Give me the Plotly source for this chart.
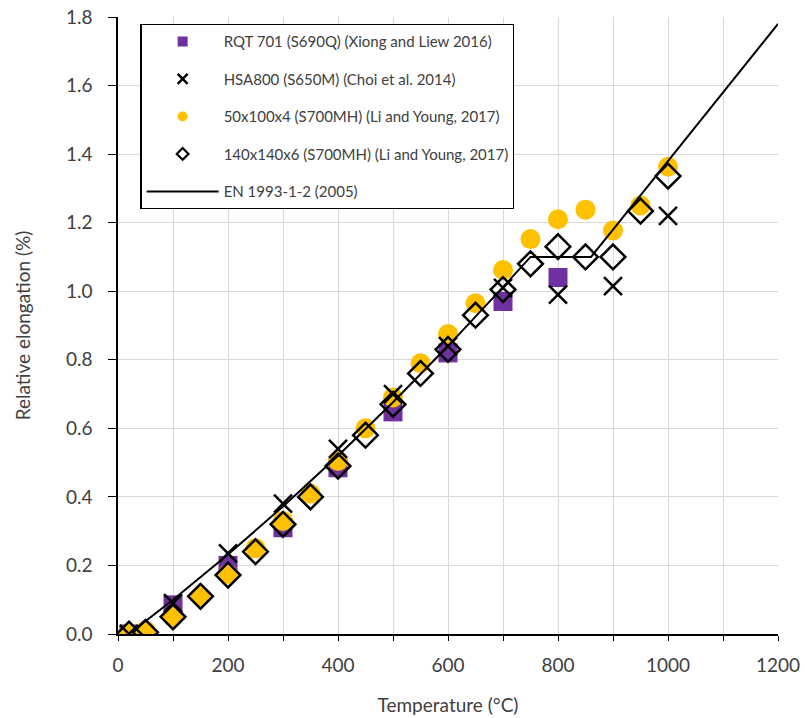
import plotly.graph_objects as go

# RQT 701 (S690Q)
rqt_T = [20, 100, 200, 300, 400, 500, 600, 700, 800]
rqt_v = [0.0, 0.085, 0.20, 0.31, 0.485, 0.648, 0.82, 0.97, 1.04]

# HSA800 (S650M)
hsa_T = [20, 100, 200, 300, 400, 500, 600, 700, 800, 900, 1000]
hsa_v = [0.0, 0.09, 0.235, 0.38, 0.54, 0.70, 0.84, 1.01, 0.99, 1.015, 1.22]

# 50x100x4 (S700MH)
c_T = [20, 50, 100, 150, 200, 250, 300, 350, 400, 450, 500, 550, 600, 650, 700, 750, 800, 850, 900, 950, 1000]
c_v = [0.0, 0.01, 0.05, 0.11, 0.175, 0.25, 0.33, 0.41, 0.505, 0.60, 0.69, 0.79, 0.875, 0.965, 1.062, 1.152, 1.21, 1.238, 1.177, 1.25, 1.363]

# 140x140x6 (S700MH)
d_T = [20, 50, 100, 150, 200, 250, 300, 350, 400, 450, 500, 550, 600, 650, 700, 750, 800, 850, 900, 950, 1000]
d_v = [0.0, 0.005, 0.05, 0.11, 0.172, 0.24, 0.32, 0.40, 0.49, 0.58, 0.67, 0.76, 0.83, 0.93, 1.005, 1.08, 1.13, 1.10, 1.10, 1.234, 1.336]

# EN 1993-1-2 (2005)
en_T = [20, 50, 100, 200, 300, 400, 500, 600, 650, 700, 750, 860, 900, 1000, 1100, 1200]
en_v = [0.0, 0.037, 0.0998, 0.232, 0.372, 0.520, 0.676, 0.840, 0.925, 1.012, 1.10, 1.10, 1.18, 1.38, 1.58, 1.78]

x_ticks = [0, 200, 400, 600, 800, 1000, 1200]
y_ticks = [0.0, 0.2, 0.4, 0.6, 0.8, 1.0, 1.2, 1.4, 1.6, 1.8]

names = ["RQT 701 (S690Q) (Xiong and Liew 2016)",
         "HSA800 (S650M) (Choi et al. 2014)",
         "50x100x4 (S700MH) (Li and Young, 2017)",
         "140x140x6 (S700MH) (Li and Young, 2017)",
         "EN 1993-1-2 (2005)"]

PURPLE = "#7030A0"
ORANGE = "#FFC000"
FONT = "Lato, Carlito, sans-serif"
TXT = "#404040"

sq = dict(symbol="square", color=PURPLE)
xm = dict(symbol="x-thin", color="black")
ci = dict(symbol="circle", color=ORANGE)
di = dict(symbol="diamond-open", color="black")

fig = go.Figure()
# data traces (draw order)
fig.add_trace(go.Scatter(x=rqt_T, y=rqt_v, mode="markers", showlegend=False,
                         marker=dict(**sq, size=19)))
fig.add_trace(go.Scatter(x=c_T, y=c_v, mode="markers", showlegend=False,
                         marker=dict(**ci, size=20)))
fig.add_trace(go.Scatter(x=hsa_T, y=hsa_v, mode="markers", showlegend=False,
                         marker=dict(**xm, size=18, line=dict(width=2.5, color="black"))))
fig.add_trace(go.Scatter(x=d_T, y=d_v, mode="markers", showlegend=False,
                         marker=dict(**di, size=19, line=dict(width=2.5, color="black"))))
fig.add_trace(go.Scatter(x=en_T, y=en_v, mode="lines", showlegend=False,
                         line=dict(color="black", width=2)))

# legend-only entries with small symbols
leg_markers = [dict(**sq, size=10), dict(**xm, size=10, line=dict(width=2.5, color="black")),
               dict(**ci, size=10), dict(**di, size=9, line=dict(width=2.2, color="black"))]
for i, (nm, mk) in enumerate(zip(names[:4], leg_markers)):
    fig.add_trace(go.Scatter(x=[None], y=[None], mode="markers", name=nm, marker=mk,
                             legendgroup=f"g{i}", legendrank=i + 1))
fig.add_trace(go.Scatter(x=[None], y=[None], mode="lines", name=names[4],
                         line=dict(color="black", width=2), legendgroup="g4", legendrank=5))

fig.update_layout(
    width=805, height=718,
    margin=dict(l=118, r=27, t=17, b=84),
    paper_bgcolor="white", plot_bgcolor="white",
    font=dict(family=FONT, color=TXT),
    showlegend=True,
    legend=dict(x=0.034, y=0.9887, xanchor="left", yanchor="top",
                bgcolor="white", bordercolor="black", borderwidth=1.2,
                font=dict(family=FONT, size=15, color=TXT),
                itemsizing="trace", itemwidth=72, tracegroupgap=15, traceorder="grouped"),
)
fig.update_xaxes(range=[0, 1200], tickvals=x_ticks, ticktext=[str(t) for t in x_ticks],
                 automargin=False,
                 showgrid=True, gridcolor="#d9d9d9", gridwidth=1,
                 minor=dict(dtick=100, showgrid=True, gridcolor="#d9d9d9", gridwidth=1,
                            ticks="outside", ticklen=5, tickcolor="black"),
                 showline=True, linecolor="black", linewidth=1.5,
                 ticks="outside", ticklen=5, tickcolor="black",
                 tickfont=dict(family=FONT, size=19, color=TXT), ticklabelstandoff=8,
                 title=dict(text="Temperature (°C)", font=dict(family=FONT, size=19, color=TXT), standoff=24),
                 zeroline=False)
fig.update_yaxes(range=[0, 1.8], tickvals=y_ticks, ticktext=[f"{t:.1f}" for t in y_ticks],
                 automargin=False,
                 showgrid=True, gridcolor="#d9d9d9", gridwidth=1,
                 showline=True, linecolor="black", linewidth=1.5,
                 ticks="outside", ticklen=8, tickcolor="black",
                 tickfont=dict(family=FONT, size=19, color=TXT), ticklabelstandoff=12,
                 title=dict(text="Relative elongation (%)", font=dict(family=FONT, size=19, color=TXT), standoff=30),
                 zeroline=False)

fig.write_html("out.html")
